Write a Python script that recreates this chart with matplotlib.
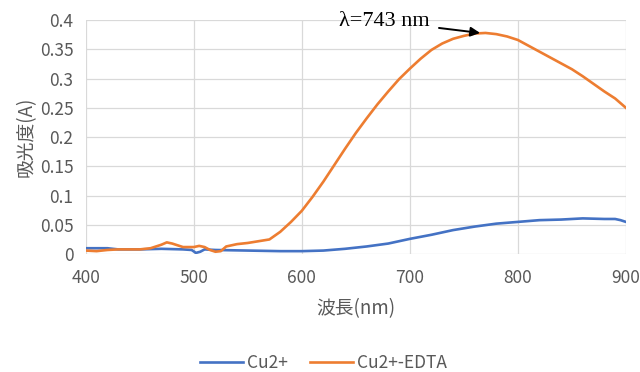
import matplotlib.pyplot as plt

plt.rcParams['font.family'] = ['Noto Sans CJK JP', 'DejaVu Sans']

# wavelength (nm) and absorbance values
wl_cu = [400, 410, 420, 425, 430, 450, 470, 490, 498, 502, 506, 510, 520,
         550, 580, 600, 620, 640, 660, 680, 700, 720, 740, 760, 780, 800,
         820, 840, 860, 880, 890, 895, 900]
abs_cu = [0.010, 0.010, 0.010, 0.009, 0.008, 0.008, 0.009, 0.008, 0.007, 0.002,
          0.004, 0.008, 0.007, 0.006, 0.005, 0.005, 0.006, 0.009, 0.013, 0.018,
          0.026, 0.033, 0.041, 0.047, 0.052, 0.055, 0.058, 0.059, 0.061, 0.060,
          0.060, 0.058, 0.055]

wl_edta = [400, 410, 420, 430, 440, 450, 460, 470, 475, 480, 490, 500, 505,
           510, 515, 520, 525, 530, 540, 550, 560, 570, 580, 590, 600, 610,
           620, 630, 640, 650, 660, 670, 680, 690, 700, 710, 720, 730, 740,
           750, 760, 770, 780, 790, 800, 810, 820, 830, 840, 850, 860, 870,
           880, 890, 900]
abs_edta = [0.006, 0.005, 0.007, 0.008, 0.008, 0.008, 0.010, 0.016, 0.020, 0.018,
            0.012, 0.012, 0.014, 0.012, 0.007, 0.004, 0.005, 0.013, 0.017, 0.019,
            0.022, 0.025, 0.038, 0.055, 0.074, 0.098, 0.124, 0.152, 0.180, 0.207,
            0.232, 0.256, 0.278, 0.299, 0.317, 0.334, 0.349, 0.360, 0.368, 0.373,
            0.377, 0.378, 0.376, 0.372, 0.366, 0.356, 0.346, 0.336, 0.326, 0.316,
            0.304, 0.291, 0.278, 0.266, 0.250]

peak_x, peak_y = 765, 0.378

fig = plt.figure(figsize=(6.4, 3.72), dpi=100)
ax = fig.add_axes([0.134, 0.317, 0.844, 0.629])

ax.plot(wl_cu, abs_cu, color='#4472C4', lw=1.9, label='Cu2+')
ax.plot(wl_edta, abs_edta, color='#ED7D31', lw=1.9, label='Cu2+-EDTA')

ax.set_xlim(400, 900)
ax.set_ylim(0, 0.4)
ax.set_xticks([400, 500, 600, 700, 800, 900])
ax.set_yticks([0, 0.05, 0.1, 0.15, 0.2, 0.25, 0.3, 0.35, 0.4])
ax.set_yticklabels(['0', '0.05', '0.1', '0.15', '0.2', '0.25', '0.3', '0.35', '0.4'])
ax.grid(color='#d9d9d9', lw=0.9)
ax.set_axisbelow(True)
for s in ax.spines.values():
    s.set_visible(False)
ax.tick_params(length=0, labelsize=12.5, colors='#595959')
ax.tick_params(axis='x', pad=11)
ax.tick_params(axis='y', pad=9)

ax.set_xlabel('波長(nm)', fontsize=13.5, color='#595959', labelpad=8)
ax.set_ylabel('吸光度(A)', fontsize=13.5, color='#595959', labelpad=2)

ax.annotate('λ=743 nm', xy=(peak_x, peak_y), xytext=(718, 0.398),
            ha='right', va='center', fontsize=16, family='Liberation Serif',
            color='black', annotation_clip=False,
            arrowprops=dict(arrowstyle='-|>', color='black', lw=1.4,
                            shrinkA=5, shrinkB=0, mutation_scale=14))

fig.legend(loc='center', bbox_to_anchor=(0.505, 0.025), ncol=2, frameon=False,
           fontsize=12.5, labelcolor='#595959', handlelength=2.5,
           columnspacing=1.3, handletextpad=0.2)

plt.savefig('out.png', dpi=100)
